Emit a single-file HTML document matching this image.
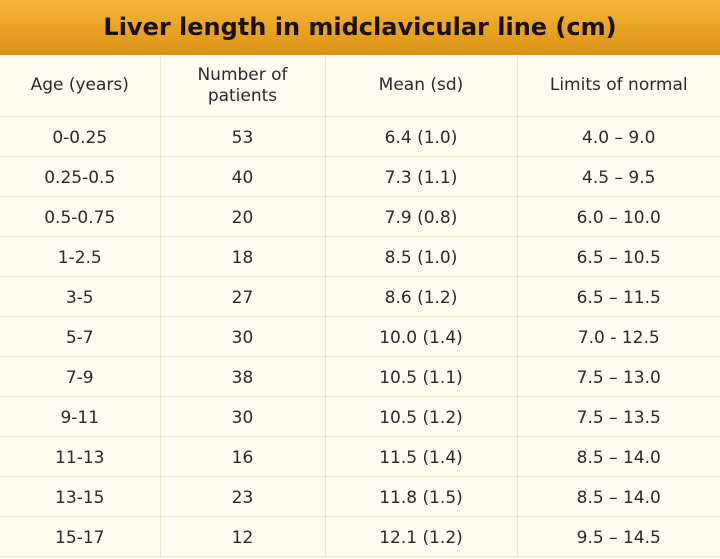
<!DOCTYPE html>
<html><head><style>
body{margin:0;width:720px;height:559px;background:#fefcee;font-family:"DejaVu Sans","Liberation Sans",sans-serif;color:#222;overflow:hidden}
.t{height:55px;background:linear-gradient(#f5b73a,#e8a020 60%,#d9911a);text-align:center;font-weight:bold;font-size:24px;line-height:55px;color:#1a1100}
table{border-collapse:collapse;width:720px;table-layout:fixed}
td{text-align:center;font-size:17px;height:37px;border-right:1px solid #ebe5cc;border-bottom:1px solid #ebe5cc;padding:2px 0 0 0;color:#2a2a2a}
td:last-child{border-right:none}
tr.h td{height:61px;line-height:21px;padding:0}
</style></head><body>
<div class="t">Liver length in midclavicular line (cm)</div>
<table>
<colgroup><col style="width:160px"><col style="width:165px"><col style="width:192px"><col style="width:203px"></colgroup>
<tr class="h"><td>Age (years)</td><td>Number of<br>patients</td><td>Mean (sd)</td><td>Limits of normal</td></tr>
<tr><td>0-0.25</td><td>53</td><td>6.4 (1.0)</td><td>4.0 – 9.0</td></tr>
<tr><td>0.25-0.5</td><td>40</td><td>7.3 (1.1)</td><td>4.5 – 9.5</td></tr>
<tr><td>0.5-0.75</td><td>20</td><td>7.9 (0.8)</td><td>6.0 – 10.0</td></tr>
<tr><td>1-2.5</td><td>18</td><td>8.5 (1.0)</td><td>6.5 – 10.5</td></tr>
<tr><td>3-5</td><td>27</td><td>8.6 (1.2)</td><td>6.5 – 11.5</td></tr>
<tr><td>5-7</td><td>30</td><td>10.0 (1.4)</td><td>7.0 - 12.5</td></tr>
<tr><td>7-9</td><td>38</td><td>10.5 (1.1)</td><td>7.5 – 13.0</td></tr>
<tr><td>9-11</td><td>30</td><td>10.5 (1.2)</td><td>7.5 – 13.5</td></tr>
<tr><td>11-13</td><td>16</td><td>11.5 (1.4)</td><td>8.5 – 14.0</td></tr>
<tr><td>13-15</td><td>23</td><td>11.8 (1.5)</td><td>8.5 – 14.0</td></tr>
<tr><td>15-17</td><td>12</td><td>12.1 (1.2)</td><td>9.5 – 14.5</td></tr>
</table>
</body></html>
